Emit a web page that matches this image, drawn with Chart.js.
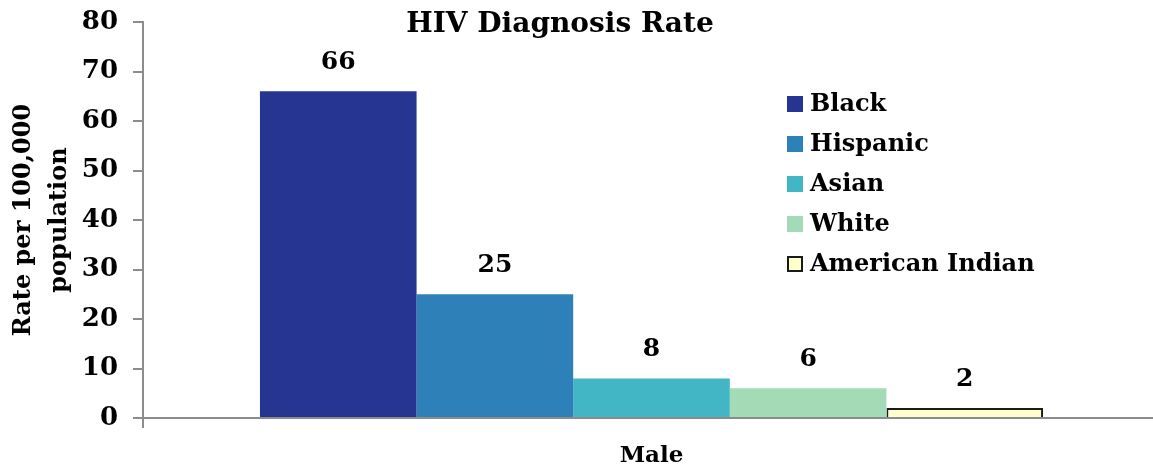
<!DOCTYPE html>
<html>
<head>
<meta charset="utf-8">
<script src="https://cdn.jsdelivr.net/npm/chart.js@4.4.1/dist/chart.umd.min.js"></script>
<style>
  html, body { margin: 0; padding: 0; background: #fff; overflow: hidden; }
  #wrap { width: 1160px; height: 470px; position: relative; }
</style>
</head>
<body>
<div id="wrap"><canvas id="c"></canvas></div>
<script>
// HIV diagnosis rate per 100,000 population, males, by race/ethnicity
const categories = ['Male'];
const groups = ['Black', 'Hispanic', 'Asian', 'White', 'American Indian'];
const rates = [66, 25, 8, 6, 2];
const yTicks = [0, 10, 20, 30, 40, 50, 60, 70, 80];

const fills = ['#263492', '#2E80B9', '#42B6C5', '#A3DBB6', '#FFFFCC'];
const edges = [null, null, null, null, '#1a1a1a'];

const FONT = "'DejaVu Serif', 'Liberation Serif', serif";

// Value labels above each bar, title and in-plot legend
const decorations = {
  id: 'decorations',
  afterDatasetsDraw(chart) {
    const ctx = chart.ctx;
    ctx.save();
    ctx.fillStyle = '#000';
    ctx.textAlign = 'center';
    ctx.textBaseline = 'middle';
    ctx.font = 'bold 25px ' + FONT;
    chart.data.datasets.forEach((ds, i) => {
      const bar = chart.getDatasetMeta(i).data[0];
      ctx.fillText(String(ds.data[0]), bar.x, bar.y - 29);
    });

    // title
    ctx.font = 'bold 28px ' + FONT;
    ctx.fillText('HIV Diagnosis Rate', 560, 25);

    // legend
    ctx.textAlign = 'left';
    ctx.font = 'bold 24px ' + FONT;
    chart.data.datasets.forEach((ds, i) => {
      const cy = 104 + i * 40;
      ctx.fillStyle = ds.backgroundColor;
      ctx.fillRect(787, cy - 8, 16, 16);
      if (ds.borderColor && ds.borderWidth) {
        ctx.strokeStyle = ds.borderColor;
        ctx.lineWidth = 2;
        ctx.strokeRect(788, cy - 7, 14, 14);
      }
      ctx.fillStyle = '#000';
      ctx.fillText(ds.label, 810, cy + 1);
    });
    ctx.restore();
  }
};

new Chart(document.getElementById('c'), {
  type: 'bar',
  data: {
    labels: categories,
    datasets: groups.map((g, i) => ({
      label: g,
      data: [rates[i]],
      backgroundColor: fills[i],
      borderColor: edges[i] || fills[i],
      borderWidth: edges[i] ? 2 : 0,
      categoryPercentage: 0.77,
      barPercentage: 1.0
    }))
  },
  options: {
    responsive: true,
    maintainAspectRatio: false,
    animation: false,
    layout: { padding: { top: 22, left: 0, right: 0, bottom: 0 } },
    plugins: {
      legend: { display: false },
      title: { display: false },
      tooltip: { enabled: false }
    },
    scales: {
      x: {
        offset: true,
        grid: { display: true, drawOnChartArea: false, drawTicks: true, tickLength: 10, color: '#8c8c8c', lineWidth: 2, offset: true },
        border: { display: true, color: '#8c8c8c', width: 2 },
        ticks: { color: '#000', font: { family: FONT, size: 23, weight: 'bold' }, padding: 14 },
        afterFit(s) { s.height = 52; }
      },
      y: {
        min: 0,
        max: 80,
        afterBuildTicks(s) { s.ticks = yTicks.map(v => ({ value: v })); },
        grid: { display: true, drawOnChartArea: false, drawTicks: true, tickLength: 10, color: '#8c8c8c', lineWidth: 2 },
        border: { display: true, color: '#8c8c8c', width: 2 },
        ticks: { color: '#000', font: { family: FONT, size: 26, weight: 'bold' }, padding: 15 },
        title: {
          display: true,
          text: ['Rate per 100,000', 'population'],
          color: '#000',
          font: { family: FONT, size: 24, weight: 'bold', lineHeight: 1.5 },
          padding: { top: 6, bottom: 0 }
        },
        afterFit(s) {
          s.width = 143;
          s.paddingTop = 0;
          s.paddingBottom = 0;
        }
      }
    }
  },
  plugins: [decorations]
});
</script>
</body>
</html>
